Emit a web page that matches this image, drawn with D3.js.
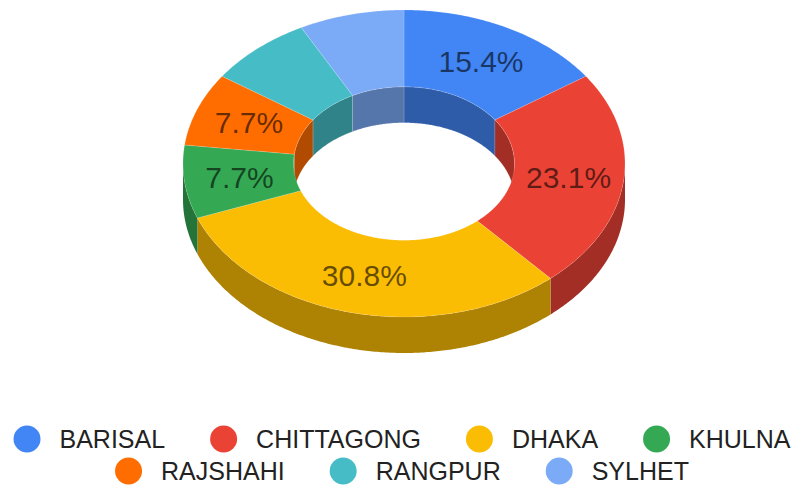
<!DOCTYPE html>
<html>
<head>
<meta charset="utf-8">
<script src="https://cdn.jsdelivr.net/npm/d3@7"></script>
<style>
  body { margin: 0; background: #fff; }
  svg { display: block; font-family: "Liberation Sans", Arial, sans-serif; }
</style>
</head>
<body>
<div id="chart"></div>
<script>
// Data
const regions = ["BARISAL", "CHITTAGONG", "DHAKA", "KHULNA", "RAJSHAHI", "RANGPUR", "SYLHET"];
const counts = [2, 3, 4, 1, 1, 1, 1];
const colors = ["#4285f4", "#ea4335", "#fbbc04", "#34a853", "#ff6d01", "#46bdc6", "#7baaf7"];
const unlabelled = ["RANGPUR", "SYLHET"];
const legendRows = [["BARISAL", "CHITTAGONG", "DHAKA", "KHULNA"], ["RAJSHAHI", "RANGPUR", "SYLHET"]];

const width = 799, height = 486;
const cx = 404, cy = 163.5, rx = 221, ry = 153.5, hole = 0.5, depth = 36;

const svg = d3.select("#chart").append("svg")
    .attr("width", width)
    .attr("height", height);

const color = d3.scaleOrdinal().domain(regions).range(colors);
const dark = c => d3.rgb(c).darker(1.03).formatHex(); // ~0.7x

const data = regions.map((r, i) => ({ region: r, count: counts[i] }));
const total = d3.sum(counts);
const arcs = d3.pie().sort(null).value(d => d.count)(data);

// point on the tilted ellipse, angle measured clockwise from 12 o'clock
const pt = (a, k, dy = 0) => [cx + rx * k * Math.sin(a), cy - ry * k * Math.cos(a) + dy];
const line = d3.line();

function arcPts(a0, a1, k, dy) {
    const n = Math.max(2, Math.ceil(Math.abs(a1 - a0) / 0.01));
    return d3.range(n + 1).map(i => pt(a0 + (a1 - a0) * i / n, k, dy));
}

function wall(a0, a1, k) {
    const top = arcPts(a0, a1, k, 0);
    const bottom = arcPts(a1, a0, k, depth);
    return line(top.concat(bottom)) + "Z";
}

function clip(a0, a1, lo, hi) {
    const s = Math.max(a0, lo), e = Math.min(a1, hi);
    return s < e ? [s, e] : null;
}

const TAU = 2 * Math.PI;
const walls = svg.append("g");

// outer walls: front half
arcs.forEach(d => {
    const r = clip(d.startAngle, d.endAngle, Math.PI / 2, 3 * Math.PI / 2);
    if (r) {
        walls.append("path")
            .attr("d", wall(r[0], r[1], 1))
            .attr("fill", dark(color(d.data.region)));
    }
});

// inner walls: back half, seen through the hole
arcs.forEach(d => {
    [[0, Math.PI / 2], [3 * Math.PI / 2, TAU]].forEach(([lo, hi]) => {
        const r = clip(d.startAngle, d.endAngle, lo, hi);
        if (r) {
            walls.append("path")
                .attr("d", wall(r[0], r[1], hole))
                .attr("fill", dark(color(d.data.region)))
                .attr("stroke", "rgba(255,255,255,0.25)")
                .attr("stroke-width", 0.6);
        }
    });
});

// top surfaces
svg.append("g").selectAll("path")
    .data(arcs)
    .join("path")
    .attr("d", d => line(arcPts(d.startAngle, d.endAngle, 1, 0)
        .concat(arcPts(d.endAngle, d.startAngle, hole, 0))) + "Z")
    .attr("fill", d => color(d.data.region))
    .attr("stroke", "rgba(255,255,255,0.25)")
    .attr("stroke-width", 0.6);

// slice labels
svg.append("g").selectAll("text")
    .data(arcs.filter(d => !unlabelled.includes(d.data.region)))
    .join("text")
    .attr("x", d => pt((d.startAngle + d.endAngle) / 2, (1 + hole) / 2)[0])
    .attr("y", d => pt((d.startAngle + d.endAngle) / 2, (1 + hole) / 2)[1])
    .attr("text-anchor", "middle")
    .attr("dominant-baseline", "central")
    .style("font-size", "30px")
    .attr("fill", "#000")
    .attr("fill-opacity", 0.6)
    .text(d => (d.data.count / total * 100).toFixed(1) + "%");

// legend
const legendY = [439, 471];
const dotR = 13.5, textGap = 19, itemGap = 45, legendCx = 402;
legendRows.forEach((row, ri) => {
    const g = svg.append("g");
    const items = row.map(name => {
        const item = g.append("g");
        item.append("circle")
            .attr("r", dotR)
            .attr("cx", dotR)
            .attr("cy", legendY[ri])
            .attr("fill", color(name));
        const t = item.append("text")
            .attr("x", dotR * 2 + textGap)
            .attr("y", legendY[ri])
            .attr("dominant-baseline", "central")
            .style("font-size", "25px")
            .attr("fill", "#222")
            .text(name);
        return { item, w: dotR * 2 + textGap + t.node().getComputedTextLength() };
    });
    const rowW = d3.sum(items, d => d.w) + itemGap * (items.length - 1);
    let x = legendCx - rowW / 2;
    items.forEach(d => {
        d.item.attr("transform", `translate(${x},0)`);
        x += d.w + itemGap;
    });
});
</script>
</body>
</html>
